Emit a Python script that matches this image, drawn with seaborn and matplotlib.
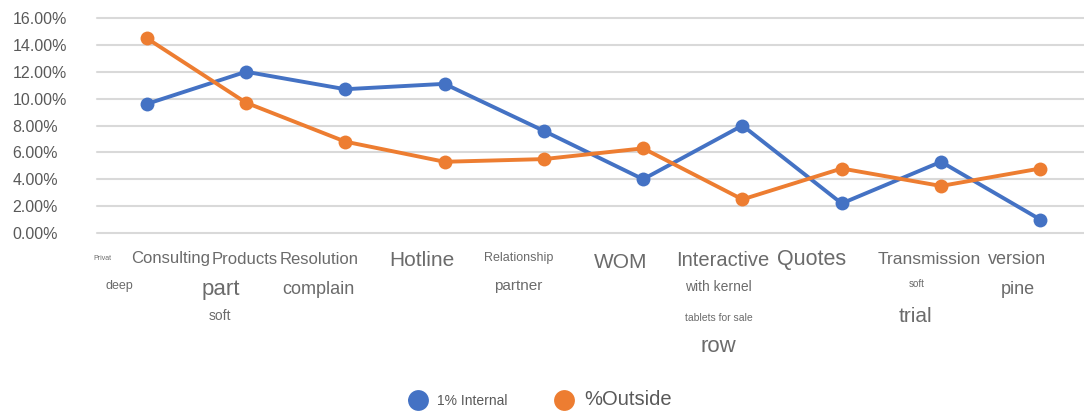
import numpy as np
import pandas as pd
import matplotlib
matplotlib.use("Agg")
import matplotlib.pyplot as plt
from matplotlib.ticker import PercentFormatter
from matplotlib.transforms import blended_transform_factory
import seaborn as sns

sns.set_theme(style="white")
plt.rcParams['font.family'] = ['Liberation Sans', 'DejaVu Sans']

# data
series_names = ["1% Internal", "%Outside"]
internal = [0.096, 0.120, 0.107, 0.111, 0.076, 0.040, 0.080, 0.022, 0.053, 0.010]
outside = [0.145, 0.097, 0.068, 0.053, 0.055, 0.063, 0.025, 0.048, 0.035, 0.048]
point_idx = list(range(len(internal)))

# scattered category words under the axis: (text, x in category units, y px from top, size)
words = [
    ("Privat", -0.45, 258, 5),
    ("Consulting", 0.24, 259, 12),
    ("Products", 0.99, 259, 12),
    ("Resolution", 1.74, 259, 12),
    ("Hotline", 2.77, 260, 15),
    ("Relationship", 3.75, 258, 9),
    ("WOM", 4.77, 262, 15),
    ("Interactive", 5.80, 260, 14.5),
    ("Quotes", 6.70, 260, 15.5),
    ("Transmission", 7.88, 260, 12.5),
    ("version", 8.77, 260, 13),
    ("deep", -0.27, 286, 9),
    ("part", 0.75, 290, 16),
    ("complain", 1.73, 290, 13),
    ("partner", 3.74, 286, 11),
    ("with kernel", 5.76, 287, 10),
    ("soft", 7.75, 284, 7),
    ("pine", 8.77, 290, 13),
    ("soft", 0.74, 316, 10),
    ("tablets for sale", 5.76, 318, 7.5),
    ("trial", 7.74, 317, 15),
    ("row", 5.76, 346, 16),
]

df = pd.DataFrame({
    "pos": point_idx * 2,
    "value": internal + outside,
    "series": [series_names[0]] * len(internal) + [series_names[1]] * len(outside),
})

W, H = 1084, 413
fig = plt.figure(figsize=(W / 100, H / 100), dpi=100)
ax = fig.add_axes([97 / W, 1 - 233 / H, 1 - 97 / W, 215 / H])

pal = {series_names[0]: "#4472C4", series_names[1]: "#ED7D31"}
sns.lineplot(data=df, x="pos", y="value", hue="series", palette=pal, marker="o",
             markersize=10, markeredgewidth=0, linewidth=2.8, ax=ax)

ax.set_xlim(-0.5, 9.44)
ax.set_ylim(0, 0.16)
ax.set_yticks(np.arange(0, 0.161, 0.02))
ax.yaxis.set_major_formatter(PercentFormatter(1, decimals=2))
ax.set_xticks([])
ax.set_xlabel("")
ax.set_ylabel("")
ax.grid(axis="y", color="#d9d9d9", linewidth=1.5)
ax.set_axisbelow(True)
for gl in ax.get_ygridlines():
    gl.set_clip_on(False)
for s in ax.spines.values():
    s.set_visible(False)
ax.tick_params(axis="y", length=0, pad=61, labelsize=11.5, labelcolor="#595959")
for lab in ax.get_yticklabels():
    lab.set_horizontalalignment("left")

trans = blended_transform_factory(ax.transData, fig.transFigure)
for txt, x, py, size in words:
    ax.text(x, 1 - py / H, txt, transform=trans, ha="center", va="center",
            fontsize=size, color="#6b6b6b", clip_on=False)

handles, labels = ax.get_legend_handles_labels()
ax.get_legend().remove()
leg = fig.legend(handles, labels, loc="center", bbox_to_anchor=(0.499, 0.032), ncol=2,
                 frameon=False, handlelength=1.0, columnspacing=3.2, handletextpad=0.8,
                 markerscale=1.5)
leg.get_texts()[0].set_fontsize(10)
leg.get_texts()[1].set_fontsize(14.5)
for t in leg.get_texts():
    t.set_color("#595959")

fig.savefig("out.png", dpi=100)
